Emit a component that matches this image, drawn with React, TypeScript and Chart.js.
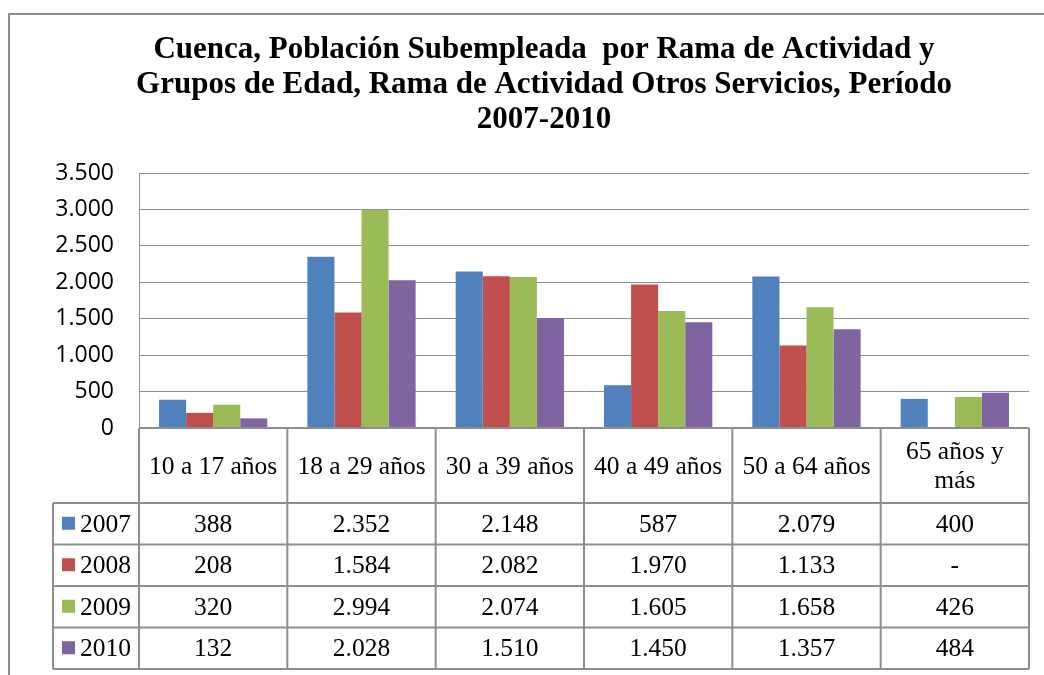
import React, { useEffect, useRef } from 'react';
import { Chart, registerables } from 'chart.js';

Chart.register(...registerables);

const titleLines = [
  'Cuenca, Población Subempleada  por Rama de Actividad y',
  'Grupos de Edad, Rama de Actividad Otros Servicios, Período',
  '2007-2010',
];
const categories = [
  ['10 a 17 años'],
  ['18 a 29 años'],
  ['30 a 39 años'],
  ['40 a 49 años'],
  ['50 a 64 años'],
  ['65 años y', 'más'],
];
const years = ['2007', '2008', '2009', '2010'];
const colors = ['#4F81BD', '#C0504D', '#9BBB59', '#8064A2'];
const s2007 = [388, 2352, 2148, 587, 2079, 400];
const s2008 = [208, 1584, 2082, 1970, 1133, null];
const s2009 = [320, 2994, 2074, 1605, 1658, 426];
const s2010 = [132, 2028, 1510, 1450, 1357, 484];
const series = [s2007, s2008, s2009, s2010];
const yMin = 0;
const yMax = 3500;
const yStep = 500;

const fmt = (n: number | null) =>
  n === null ? '-' : String(n).replace(/\B(?=(\d{3})+(?!\d))/g, '.');

const W = 1044;
const H = 675;
const PLOT_TOP = 173;
const PLOT_BOTTOM = 428;
const PLOT_LEFT = 139;
const PLOT_RIGHT = 1029;
const HEADER_H = 75;
const ROW_H = 41.5;
const LEGEND_LEFT = 53;
const SERIF = '"Liberation Serif", "Times New Roman", serif';
const LINE = '#8e8e8e';

const tablePlugin = {
  id: 'tablePlugin',
  afterDraw(chart: any) {
    const ctx = chart.ctx as CanvasRenderingContext2D;
    const xs = chart.scales.x;
    const area = chart.chartArea;
    ctx.save();

    // outer border
    ctx.strokeStyle = LINE;
    ctx.lineWidth = 2;
    ctx.beginPath();
    ctx.moveTo(9, H + 2);
    ctx.lineTo(9, 14);
    ctx.lineTo(W + 2, 14);
    ctx.stroke();

    // title
    ctx.fillStyle = '#000';
    ctx.font = `bold 31px ${SERIF}`;
    ctx.textAlign = 'center';
    ctx.textBaseline = 'alphabetic';
    titleLines.forEach((t, i) => ctx.fillText(t, 544, 58 + i * 35));

    // table geometry
    const n = categories.length;
    const bounds: number[] = [];
    for (let i = 0; i < n; i++) {
      const c = xs.getPixelForValue(i);
      const next = i < n - 1 ? xs.getPixelForValue(i + 1) : c + (c - xs.getPixelForValue(i - 1));
      if (i === 0) {
        const prevHalf = (xs.getPixelForValue(1) - c) / 2;
        bounds.push(c - prevHalf);
      }
      bounds.push((c + next) / 2);
    }
    const top = area.bottom;
    const hdrBottom = top + HEADER_H;
    const tableBottom = hdrBottom + ROW_H * years.length;

    ctx.strokeStyle = LINE;
    ctx.lineWidth = 2;
    ctx.beginPath();
    bounds.forEach((bx) => {
      ctx.moveTo(bx, top);
      ctx.lineTo(bx, tableBottom);
    });
    ctx.moveTo(LEGEND_LEFT, hdrBottom);
    ctx.lineTo(LEGEND_LEFT, tableBottom);
    for (let r = 0; r <= years.length; r++) {
      const y = hdrBottom + r * ROW_H;
      ctx.moveTo(LEGEND_LEFT, y);
      ctx.lineTo(bounds[bounds.length - 1], y);
    }
    ctx.moveTo(bounds[0], top);
    ctx.lineTo(bounds[bounds.length - 1], top);
    ctx.stroke();

    // header text
    ctx.fillStyle = '#000';
    ctx.font = `25.5px ${SERIF}`;
    ctx.textAlign = 'center';
    categories.forEach((lines, i) => {
      const cx = xs.getPixelForValue(i);
      const lh = 29;
      const mid = top + HEADER_H / 2;
      const start = mid - ((lines.length - 1) * lh) / 2;
      lines.forEach((l, k) => ctx.fillText(l, cx, start + k * lh + 8));
    });

    // rows
    years.forEach((yr, r) => {
      const cy = hdrBottom + r * ROW_H + ROW_H / 2;
      ctx.fillStyle = colors[r];
      ctx.fillRect(62, cy - 7, 13, 13);
      ctx.fillStyle = '#000';
      ctx.textAlign = 'left';
      ctx.fillText(yr, 80, cy + 8);
      ctx.textAlign = 'center';
      series[r].forEach((v, i) => {
        ctx.fillText(fmt(v), xs.getPixelForValue(i), cy + 8);
      });
    });

    ctx.restore();
  },
};

export default function App() {
  const ref = useRef<HTMLCanvasElement | null>(null);
  useEffect(() => {
    document.body.style.margin = '0';
    if (!ref.current) return;
    const chart = new Chart(ref.current, {
      type: 'bar',
      data: {
        labels: categories.map((c) => c.join(' ')),
        datasets: years.map((y, i) => ({
          label: y,
          data: series[i],
          backgroundColor: colors[i],
          borderWidth: 0,
          categoryPercentage: 0.73,
          barPercentage: 1,
        })),
      },
      options: {
        responsive: false,
        animation: false,
        devicePixelRatio: 1,
        layout: { padding: { top: PLOT_TOP, right: W - PLOT_RIGHT, left: 0, bottom: 0 } },
        plugins: {
          legend: { display: false },
          title: { display: false },
          tooltip: { enabled: false },
        },
        scales: {
          x: {
            grid: { display: false },
            border: { display: false },
            ticks: { display: false },
            afterFit: (s: any) => {
              s.height = H - PLOT_BOTTOM;
            },
          },
          y: {
            min: yMin,
            max: yMax,
            ticks: {
              stepSize: yStep,
              callback: (v: any) => fmt(Number(v)),
              color: '#000',
              font: { family: '"Open Sans", sans-serif', size: 23 },
              padding: 25,
            },
            grid: { color: LINE, lineWidth: 1, drawTicks: false },
            border: { display: true, color: LINE, width: 1 },
            afterFit: (s: any) => {
              s.width = PLOT_LEFT;
            },
          },
        },
      },
      plugins: [tablePlugin],
    });
    return () => chart.destroy();
  }, []);
  return (
    <div style={{ position: 'absolute', left: 0, top: 0, width: W, height: H }}>
      <canvas ref={ref} width={W} height={H} style={{ display: 'block' }} />
    </div>
  );
}
